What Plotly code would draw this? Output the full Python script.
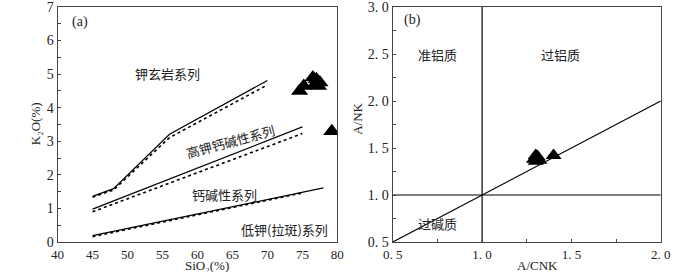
import plotly.graph_objects as go

# ---- Panel (a) data ----
sio2 = [74.6, 75.2, 76.5, 77.0, 77.5, 77.3, 76.8, 79.2]
k2o = [4.5, 4.65, 4.9, 4.85, 4.75, 4.65, 4.7, 3.3]

# boundary lines (solid / dotted)
b1_x = [45, 48, 56, 70]
b1_y = [1.36, 1.59, 3.21, 4.81]
b1d_x = [45, 48, 56, 70]
b1d_y = [1.33, 1.55, 3.11, 4.68]
b2_x = [45, 75]
b2_y = [0.98, 3.43]
b2d_x = [45, 75]
b2d_y = [0.9, 3.23]
b3_x = [45, 78]
b3_y = [0.19, 1.61]
b3d_x = [45, 75]
b3d_y = [0.16, 1.46]

# ---- Panel (b) data ----
acnk = [1.29, 1.30, 1.31, 1.32, 1.30, 1.31, 1.40]
anks = [1.38, 1.42, 1.41, 1.37, 1.36, 1.40, 1.42]
ref_x = [0.5, 2.0]
ref_y = [0.5, 2.0]

a_xticks = [40, 45, 50, 55, 60, 65, 70, 75, 80]
a_yticks = [0, 1, 2, 3, 4, 5, 6, 7]
b_ticks = [0.5, 1.0, 1.5, 2.0]
b_xticktext = ["0.\u00a05", "1.\u00a00", "1.\u00a05", "2.\u00a00"]
b_yticks = [0.5, 1.0, 1.5, 2.0, 2.5, 3.0]
b_yticktext = ["0.\u00a05", "1.\u00a00", "1.\u00a05", "2.\u00a00", "2.\u00a05", "3.\u00a00"]

SERIF = "Liberation Serif, Times New Roman, serif"
CJK = "Noto Sans CJK SC"

fig = go.Figure()

def line(x, y, dash, xa="x", ya="y"):
    fig.add_trace(go.Scatter(x=x, y=y, mode="lines", xaxis=xa, yaxis=ya,
                             line=dict(color="black", width=1.2 if dash == "solid" else 1.6, dash=dash),
                             showlegend=False, hoverinfo="skip"))

line(b1_x, b1_y, "solid"); line(b1d_x, b1d_y, "dot")
line(b2_x, b2_y, "solid"); line(b2d_x, b2d_y, "dot")
line(b3_x, b3_y, "solid"); line(b3d_x, b3d_y, "dot")

fig.add_trace(go.Scatter(x=sio2, y=k2o, mode="markers", xaxis="x", yaxis="y",
                         marker=dict(symbol="triangle-up", size=15, color="black"),
                         showlegend=False))

# panel b
line(ref_x, ref_y, "solid", "x2", "y2")
line([1.0, 1.0], [0.5, 3.0], "solid", "x2", "y2")
line([0.5, 2.0], [1.0, 1.0], "solid", "x2", "y2")
fig.add_trace(go.Scatter(x=acnk, y=anks, mode="markers", xaxis="x2", yaxis="y2",
                         marker=dict(symbol="triangle-up", size=14, color="black"),
                         showlegend=False))

axis_common = dict(showline=True, linecolor="#444", linewidth=1.2, mirror=True,
                   showgrid=False, zeroline=False, ticklabeloverflow="allow")
yfont = dict(family=SERIF, size=14, color="#222")
xfont = dict(family=SERIF, size=13, color="#222")

fig.update_layout(
    width=700, height=272,
    margin=dict(l=0, r=0, t=5, b=30),
    paper_bgcolor="white", plot_bgcolor="white",
    xaxis=dict(domain=[0.07, 0.4814], range=[40, 80], tickvals=a_xticks,
               ticks="", anchor="y", tickfont=xfont, **axis_common),
    yaxis=dict(domain=[0, 1], range=[0, 7], tickvals=a_yticks, ticks="inside",
               ticklen=3, tickcolor="#444", tickfont=yfont,
               minor=dict(dtick=0.5, ticks="inside", ticklen=3, tickcolor="#444"),
               anchor="x", **axis_common),
    xaxis2=dict(domain=[0.5629, 0.957], range=[0.5, 2.0], tickvals=b_ticks,
                ticktext=b_xticktext, ticks="inside", ticklen=3, tickcolor="#444",
                tickfont=xfont,
                minor=dict(dtick=0.25, ticks="inside", ticklen=3, tickcolor="#444"),
                anchor="y2", **axis_common),
    yaxis2=dict(domain=[0, 1], range=[0.5, 3.0], tickvals=b_yticks,
                ticktext=b_yticktext, ticks="inside", ticklen=3, tickcolor="#444",
                tickfont=yfont,
                minor=dict(dtick=0.25, ticks="inside", ticklen=3, tickcolor="#444"),
                anchor="x2", **axis_common),
)

def txt(x, y, s, xref="x", yref="y", size=13, angle=0, family=CJK):
    fig.add_annotation(x=x, y=y, xref=xref, yref=yref, text=s, showarrow=False,
                       textangle=angle, font=dict(family=family, size=size, color="#222"))

txt(43.2, 6.55, "(a)", family=SERIF, size=14)
txt(55.7, 5.02, "钾玄岩系列")
txt(64.7, 3.0, "高钾钙碱性系列", angle=-15)
txt(63.8, 1.42, "钙碱性系列")
txt(72.5, 0.38, "低钾(拉斑)系列")

txt(0.61, 2.86, "(b)", "x2", "y2", family=SERIF, size=14)
txt(0.75, 2.5, "准铝质", "x2", "y2")
txt(1.44, 2.5, "过铝质", "x2", "y2")
txt(0.75, 0.7, "过碱质", "x2", "y2")

# axis titles
title_font = dict(family=SERIF, size=13, color="#222")
fig.add_annotation(x=203 / 700, y=0, xref="paper", yref="paper", xanchor="center",
                   yanchor="middle", yshift=-23, text="SiO\u2082(%)",
                   showarrow=False, font=title_font)
fig.add_annotation(x=543 / 700, y=0, xref="paper", yref="paper", xanchor="center",
                   yanchor="middle", yshift=-23, text="A/CNK",
                   showarrow=False, font=title_font)
fig.add_annotation(x=26 / 700, y=1 - (123 - 5) / 237, xref="paper", yref="paper",
                   xanchor="center", yanchor="middle",
                   text="K\u2082O(%)", showarrow=False, textangle=-90,
                   font=title_font)
fig.add_annotation(x=357 / 700, y=1 - (118 - 5) / 237, xref="paper", yref="paper",
                   xanchor="center", yanchor="middle",
                   text="A/NK", showarrow=False, textangle=-90,
                   font=title_font)

fig.write_html("out.html", config={"displayModeBar": False},
               post_script="document.body.style.margin='0';")
